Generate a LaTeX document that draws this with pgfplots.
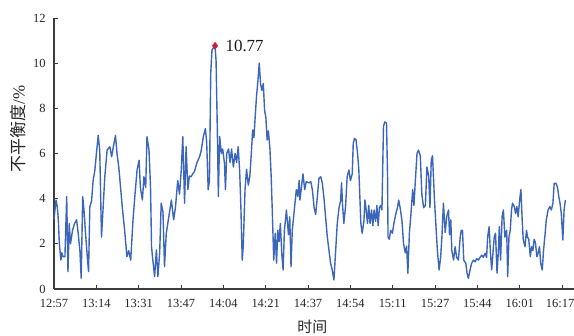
\documentclass[border=0pt]{standalone}
\usepackage{pgfplots}
\pgfplotsset{compat=1.18}
\usepackage{fontspec}
\setmainfont{Liberation Serif}
\newfontfamily\cjk{Noto Sans CJK SC}
\usetikzlibrary{calc}
\definecolor{seriesblue}{RGB}{60,102,188}
\definecolor{peakred}{RGB}{200,30,60}
\definecolor{axisgrey}{RGB}{60,60,60}

% minutes after 12:57, unbalance in %
\pgfplotstableread{
m v
0 3.1
0.8 3.94
1.3 3.64
1.7 3.06
2.1 2.03
2.7 1.28
3.1 1.6
3.6 1.43
4.3 1.43
5.0 4.09
5.5 0.77
6.0 2.9
6.5 2.0
7.3 2.6
8.1 2.9
8.9 3.06
9.5 2.5
10.2 1.7
10.7 0.48
11.3 4.09
11.8 3.5
12.4 2.5
13.1 1.43
13.6 0.77
14.1 3.64
14.8 3.9
15.4 4.8
16.1 5.27
16.7 6.0
17.4 6.8
18.0 6.15
18.7 2.3
20.0 4.97
20.9 6.15
22.0 6.3
22.7 5.86
23.5 6.38
24.2 6.8
24.8 6.0
25.5 5.4
26.2 4.5
26.9 3.6
27.8 2.6
28.7 1.43
29.4 1.7
30.2 1.28
31.1 3.06
31.9 4.2
32.7 5.27
33.5 5.7
34.0 4.5
34.8 3.94
35.4 4.97
36.1 4.5
36.6 6.75
37.4 6.15
38.0 4.5
38.4 1.87
38.9 1.28
39.6 0.55
40.3 1.73
40.9 0.55
41.6 1.6
42.2 3.8
42.9 3.4
43.5 0.99
44.2 2.47
45.2 3.2
46.2 3.94
47.1 3.06
47.8 3.6
48.7 4.8
49.4 4.2
50.1 5.27
50.7 6.75
51.4 3.8
52.0 6.3
52.7 4.4
53.3 5.0
54.0 4.97
54.6 5.1
55.3 5.2
56.2 5.57
57.3 5.86
57.9 6.1
58.8 6.75
59.6 7.1
60.1 6.5
60.7 4.4
61.2 4.8
61.7 9.55
62.2 10.6
63.4 10.77
63.8 10.1
64.3 7.0
64.7 4.09
65.2 6.75
65.9 6.0
66.4 6.2
67.1 5.57
67.5 4.4
68.0 6.0
68.7 6.2
69.3 5.6
69.9 6.2
70.6 5.4
71.3 6.0
71.9 5.6
72.5 6.3
73.1 5.2
73.6 3.5
74.1 1.28
74.5 1.9
75.2 4.4
75.8 5.3
76.5 4.6
77.1 5.0
77.6 5.86
78.2 7.04
78.7 6.7
79.2 7.63
79.7 8.5
80.3 9.26
80.8 10.0
81.3 9.1
81.8 8.8
82.4 9.1
82.9 7.9
83.4 7.6
83.9 6.6
84.4 7.0
85.0 6.2
85.5 4.97
86.0 3.2
86.5 1.28
87.1 2.47
87.6 1.14
88.1 2.6
88.6 2.1
89.1 2.9
89.7 1.5
90.2 0.84
90.7 2.6
91.5 3.5
92.3 2.4
92.8 3.2
93.3 0.99
93.8 2.6
94.6 3.5
95.4 4.4
96.0 4.1
96.5 4.8
96.8 3.94
97.4 4.5
98.0 5.1
98.7 4.4
99.3 4.75
100.4 4.7
101.1 4.75
101.7 4.4
102.4 3.6
103.0 3.3
103.6 4.0
104.3 4.9
105.0 4.97
105.6 4.7
106.3 4.0
106.9 3.2
107.6 2.3
108.2 1.75
108.9 1.14
109.5 0.85
110.2 0.4
110.9 1.75
111.5 2.9
112.2 3.6
112.8 3.9
113.2 4.7
113.6 3.7
114.1 2.9
114.8 3.7
115.4 4.97
116.1 5.27
116.7 4.8
117.4 5.1
117.8 6.45
118.3 6.67
118.9 6.6
119.5 6.0
120.0 5.27
120.4 4.09
120.8 2.9
121.3 2.47
122.0 3.0
122.4 3.94
122.9 3.5
123.4 2.9
123.9 3.7
124.4 2.9
125.0 3.5
125.5 2.8
126.0 3.5
126.6 3.0
127.1 3.7
127.6 2.8
128.1 3.6
128.6 3.7
129.1 3.5
129.7 7.2
130.2 7.4
130.9 7.35
131.3 5.0
131.5 2.3
132.0 2.2
132.5 2.6
133.2 2.47
133.8 2.9
134.5 3.3
135.2 3.6
135.7 3.94
136.4 3.5
137.0 3.0
137.6 2.0
138.3 1.6
138.8 1.9
139.3 0.7
139.9 2.47
140.5 3.3
141.2 4.4
141.7 3.7
142.2 4.7
142.9 6.0
143.5 6.15
144.2 5.9
144.8 4.2
145.5 3.6
146.2 3.7
146.8 5.4
147.5 5.0
148.0 3.6
148.5 5.7
149.0 5.9
149.8 3.9
150.3 2.9
150.9 1.73
151.6 0.84
152.2 1.4
152.7 2.3
153.3 3.8
154.0 2.5
154.6 3.2
155.3 3.5
155.7 2.4
156.2 3.06
156.6 1.7
157.3 1.28
157.9 1.87
158.5 1.4
159.2 1.28
159.9 2.3
160.3 2.6
160.8 2.6
161.3 1.28
162.1 1.14
162.6 0.7
163.1 0.47
163.8 0.85
164.4 1.14
165.1 1.28
165.8 1.2
166.4 1.35
167.1 1.28
167.7 1.4
168.4 1.5
169.0 1.4
169.7 1.58
170.3 1.4
170.7 2.3
171.3 2.76
171.8 1.6
172.3 0.85
172.8 1.6
173.3 2.3
173.8 2.47
174.4 0.7
174.9 1.6
175.3 2.76
175.8 1.28
176.4 3.2
176.9 3.5
177.5 2.3
178.2 2.6
178.6 0.55
179.1 2.3
179.6 2.6
180.1 3.5
180.5 3.8
181.2 3.65
181.7 3.35
182.2 3.65
182.7 3.2
183.3 3.94
183.8 4.4
184.3 3.06
184.7 2.2
185.4 1.87
186.0 2.6
186.4 2.3
186.9 2.2
187.5 1.43
188.0 1.87
188.5 1.7
189.0 2.2
189.5 2.06
190.1 1.43
190.6 1.6
191.1 1.87
191.6 1.14
192.2 0.84
192.7 1.7
193.2 2.3
193.8 3.06
194.5 3.5
195.2 3.65
195.8 3.5
196.4 3.8
196.9 4.68
197.6 4.68
198.2 4.5
198.7 4.1
199.2 3.8
199.7 3.35
200.3 2.17
200.8 3.5
201.3 3.94
}\unbalance

\begin{document}
\begin{tikzpicture}
\begin{axis}[
  scale only axis,
  width=520bp, height=271bp,
  xmin=0, xmax=204.7,
  ymin=0, ymax=12,
  axis x line=bottom, axis y line=left,
  axis line style={-, axisgrey, line width=1.1pt},
  tick style={axisgrey, line width=0.9pt},
  tick align=inside,
  major tick length=4bp,
  xtick={0,16.667,33.333,50,66.667,83.333,100,116.667,133.333,150,166.667,183.333,200},
  xticklabels={12:57,13:14,13:31,13:47,14:04,14:21,14:37,14:54,15:11,15:27,15:44,16:01,{\hspace*{-4bp}16:17}},
  ytick={0,2,4,6,8,10,12},
  /pgf/number format/assume math mode=true,
  tick label style={font=\fontsize{12.5}{14}\selectfont, text=black!85},
  xticklabel style={yshift=-7bp},
  yticklabel style={xshift=-5bp},
  ylabel={{\cjk 不平衡度}/\%},
  xlabel={{\cjk 时间}},
  ylabel style={at={(axis description cs:-0.069,0.59)}, anchor=center, rotate=0, font=\fontsize{17}{19}\selectfont, text=black!85},
  xlabel style={at={(axis description cs:0.497,-0.138)}, anchor=center, font=\fontsize{15}{17}\selectfont, text=black!85},
  clip=false,
]
\coordinate (sw) at (rel axis cs:0,0);
\coordinate (ne) at (rel axis cs:1,1);
\addplot[seriesblue, line width=1.4pt, line join=round] table[x=m, y=v] {\unbalance};
\addplot[only marks, mark=diamond*, mark size=3.6bp, peakred, mark options={fill=peakred, draw=peakred}]
  coordinates {(63.4,10.77)}
  node[anchor=west, xshift=7bp, font=\fontsize{17}{19}\selectfont, text=black!90] {10.77};
\end{axis}
\pgfresetboundingbox
\path ($(sw)+(-54bp,-47bp)$) rectangle ($(ne)+(0bp,18bp)$);
\end{tikzpicture}
\end{document}
